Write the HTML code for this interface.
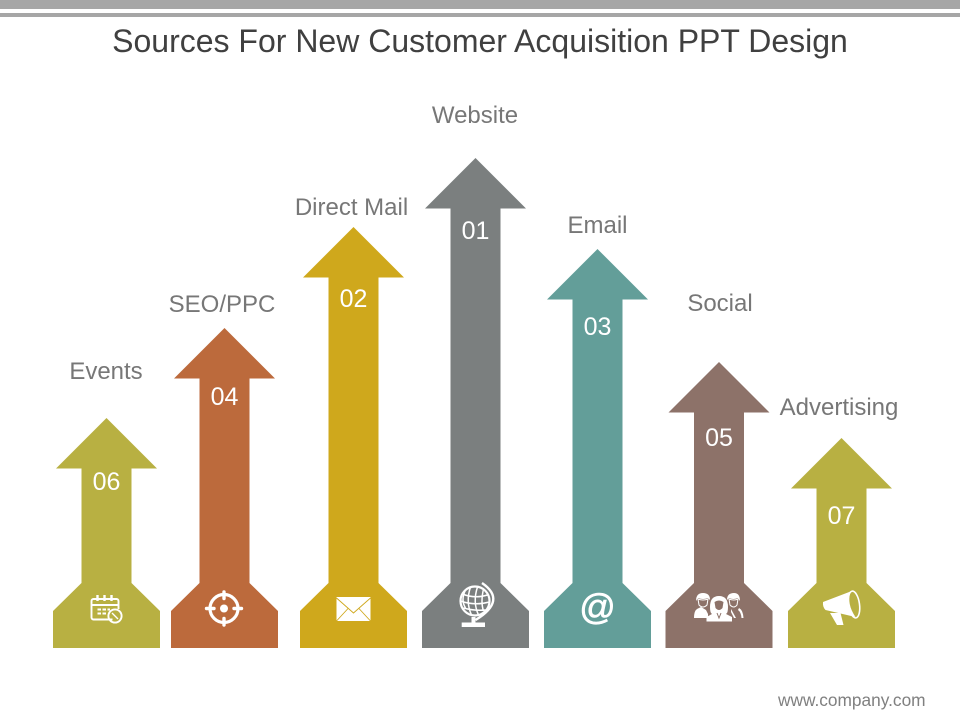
<!DOCTYPE html>
<html lang="en">
<head>
<meta charset="utf-8">
<title>Sources For New Customer Acquisition PPT Design</title>
<style>
html,body{margin:0;padding:0;background:#fff;}
#slide{position:relative;width:960px;height:720px;overflow:hidden;background:#fff;font-family:"Liberation Sans",sans-serif;}
.band{position:absolute;left:0;width:960px;background:#a6a6a6;}
#title{position:absolute;left:0;top:20px;width:960px;text-align:center;font-size:32px;line-height:42px;color:#404040;white-space:nowrap;}
#footer{position:absolute;left:778px;top:690px;font-size:17.3px;line-height:20px;color:#808080;white-space:nowrap;}
svg{position:absolute;left:0;top:0;}
</style>
</head>
<body>
<div id="slide">
  <div class="band" style="top:0;height:9px"></div>
  <div class="band" style="top:13px;height:4px"></div>
  <div id="title">Sources For New Customer Acquisition PPT Design</div>
  <svg id="chart" width="960" height="720" viewBox="0 0 960 720"></svg>
  <div id="footer">www.company.com</div>
</div>
<script>
// Data
const categories = ["Events", "SEO/PPC", "Direct Mail", "Website", "Email", "Social", "Advertising"];
const ranks = ["06", "04", "02", "01", "03", "05", "07"];
const values = [230, 320, 421, 490, 399, 286, 210];

// Styling, kept apart from the data
const colors = ["#b8b042", "#bc6a3c", "#cfa81c", "#7b7f7f", "#639e99", "#8d7269", "#b8b042"];
const slotNudge = [0, -4.5, 2, 1.5, 1, 0, 0];
const labelLift = [47, 24, 20, 43, 24, 59, 31];
const labelShift = [-0.5, -2.5, -2, -0.5, 0, 1, -2.5];
const numberDrop = [63, 68, 71, 72, 77, 75, 77];
const iconKinds = ["calendar", "target", "mail", "globe", "at", "people", "megaphone"];

// Axis functions
const BASE_Y = 648;
const FIRST_X = 106.5;
const STEP_X = 122.5;
function xAxis(i) { return FIRST_X + i * STEP_X + slotNudge[i]; }
function yAxis(v) { return BASE_Y - v; }

const svg = document.getElementById('chart');
const NS = 'http://www.w3.org/2000/svg';

function arrowPoints(cx, tip) {
  const neck = tip + 50.5;
  return [
    [cx, tip], [cx + 50.5, neck], [cx + 25, neck], [cx + 25, 583], [cx + 53.5, 611],
    [cx + 53.5, BASE_Y], [cx - 53.5, BASE_Y], [cx - 53.5, 611], [cx - 25, 583],
    [cx - 25, neck], [cx - 50.5, neck]
  ].map(function (p) { return p.join(','); }).join(' ');
}

const iconMarkup = {
  calendar: function (c) {
    return '<g fill="none" stroke="#fff" stroke-width="1.9">' +
      '<path d="M6 9.500H-13a2 2 0 0 1-2-2V-9a2 2 0 0 1 2-2H10a2 2 0 0 1 2 2V-1"/>' +
      '<path d="M-15-5H12"/><path d="M-9-15v6M-2-15v6M5-15v6" stroke-width="2.400"/>' +
      '<circle cx="8.500" cy="6" r="6.600"/><path d="M8.500 6l3 3M8.500 6L5.500 3" stroke-width="1.400"/></g>' +
      '<g fill="#fff"><rect x="-9" y="-1.500" width="3.500" height="2"/><rect x="-4" y="-1.500" width="3.500" height="2"/><rect x="1" y="-1.500" width="2.500" height="2"/><rect x="-9" y="2.500" width="3.500" height="2"/><rect x="-4" y="2.500" width="3.500" height="2"/></g>';
  },
  target: function (c) {
    return '<g fill="none" stroke="#fff"><circle cx="-0.500" cy="-1.500" r="14" stroke-width="3.200"/></g>' +
      '<circle cx="-0.500" cy="-1.500" r="4" fill="#fff"/>' +
      '<g stroke="#fff" stroke-width="3.400" stroke-linecap="round"><path d="M-0.500-18V-11.500M-0.500 8.500V15M-18-1.500H-10.500M9.500-1.500H17"/></g>';
  },
  mail: function (c) {
    return '<path d="M-17-13H17V11H-17Z" fill="#fff"/>' +
      '<path d="M-17-12L0 3L17-12M-17 11L-5-2M17 11L5-2" fill="none" stroke="' + c + '" stroke-width="0.900"/>';
  },
  globe: function (c) {
    return '<g fill="none" stroke="#fff"><circle cx="-0.500" cy="-9" r="14.500" stroke-width="2.200"/>' +
      '<g stroke-width="1.500"><path d="M-13-16Q-1-11 12-15M-15-9Q-1-4 14-8M-12-2Q-1 1 10 0"/>' +
      '<path d="M-5-23Q-10-8-4 5M2-23Q-3-8 3 5M8-21Q5-8 8 1M-10-20Q-15-10-10-2"/></g>' +
      '<path d="M6.500-27Q32-9.500 0 10" stroke-width="2.400"/></g>' +
      '<rect x="-6" y="8" width="8" height="5" fill="#fff" opacity="0"/>' +
      '<path d="M-4 7H0V13H-4Z" fill="#fff"/><rect x="-13.800" y="12.500" width="23.300" height="4.500" fill="#fff"/>';
  },
  people: function (c) {
    return '<g fill="#fff">' +
      // left man: body, hair
      '<path d="M-25 8Q-25 1-22-1L-18-3L-13 0L-11 4L-11 8Z"/>' +
      '<path d="M-23-9Q-23-17-16-17Q-9-17-9-10L-11-12Q-16-10-21-12Z"/>' +
      '<path d="M-21-11Q-16-9-11-11L-12-5Q-16-1-20-5Z" fill="none" stroke="#fff" stroke-width="1"/>' +
      // right man: hair and outline suit
      '<path d="M8-10Q8-17 15-17Q21-17 21-9L19-12Q14-10 10-12Z"/>' +
      '<path d="M10-11Q15-9 19-11L18-5Q15-1 11-5Z" fill="none" stroke="#fff" stroke-width="1"/>' +
      '<path d="M12-1L17 8H15L12 2Z"/>' +
      '<path d="M20-2Q24 0 24.500 8H22.500Q22 2 19 0Z"/>' +
      // centre woman
      '<path d="M0-14Q9-14 9-3Q9 3 7 4L13 7V11.500H-12.500V7L-7 4Q-9 3-9-3Q-9-14 0-14Z"/></g>' +
      '<path d="M-4.500-8Q0-11 4.500-8L3.500-2Q0 2-3.500-2Z" fill="' + c + '"/>' +
      '<path d="M-2 3L0 8L2 3" fill="none" stroke="' + c + '" stroke-width="1"/>';
  },
  megaphone: function (c) {
    return '<path d="M-18.500-8L9-18.500Q5-6 14 7L-16 0Q-19-3-18.500-8Z" fill="#fff"/>' +
      '<ellipse cx="12.500" cy="-5.500" rx="5.500" ry="13.500" transform="rotate(-8 12.500 -5.500)" fill="none" stroke="#fff" stroke-width="1.600"/>' +
      '<path d="M-11.500 3L-1 3L2 15L-4.500 15Z" fill="#fff"/>';
  }
};

values.forEach(function (v, i) {
  const cx = xAxis(i);
  const tip = yAxis(v);
  const slug = categories[i].toLowerCase().replace(/[^a-z]+/g, '-');

  const arrow = document.createElementNS(NS, 'polygon');
  arrow.setAttribute('points', arrowPoints(cx, tip));
  arrow.setAttribute('fill', colors[i]);
  
  
  svg.appendChild(arrow);

  const num = document.createElementNS(NS, 'text');
  num.setAttribute('x', cx);
  num.setAttribute('y', tip + numberDrop[i] + 9);
  num.setAttribute('text-anchor', 'middle');
  num.setAttribute('font-size', '25');
  num.setAttribute('font-family', '"Liberation Sans", sans-serif');
  num.setAttribute('fill', '#ffffff');
  
  
  num.textContent = ranks[i];
  svg.appendChild(num);

  const label = document.createElementNS(NS, 'text');
  label.setAttribute('x', cx + labelShift[i]);
  label.setAttribute('y', tip - labelLift[i] + 8);
  label.setAttribute('text-anchor', 'middle');
  label.setAttribute('font-size', '24');
  label.setAttribute('font-family', '"Liberation Sans", sans-serif');
  label.setAttribute('fill', '#777777');
  
  
  label.textContent = categories[i];
  svg.appendChild(label);

  const kind = iconKinds[i];
  if (kind === 'at') {
    const at = document.createElementNS(NS, 'text');
    at.setAttribute('x', cx);
    at.setAttribute('y', 619);
    at.setAttribute('text-anchor', 'middle');
    at.setAttribute('font-size', '36');
    at.setAttribute('font-family', '"Liberation Sans", sans-serif');
    at.setAttribute('fill', '#ffffff');
    at.setAttribute('stroke', '#ffffff');
    at.setAttribute('stroke-width', '0.6');
    
    
    at.textContent = '@';
    svg.appendChild(at);
  } else {
    const icon = document.createElementNS(NS, 'g');
    icon.setAttribute('transform', 'translate(' + cx + ',610)');
    
    
    icon.innerHTML = iconMarkup[kind](colors[i]);
    svg.appendChild(icon);
  }
});
</script>
</body>
</html>
